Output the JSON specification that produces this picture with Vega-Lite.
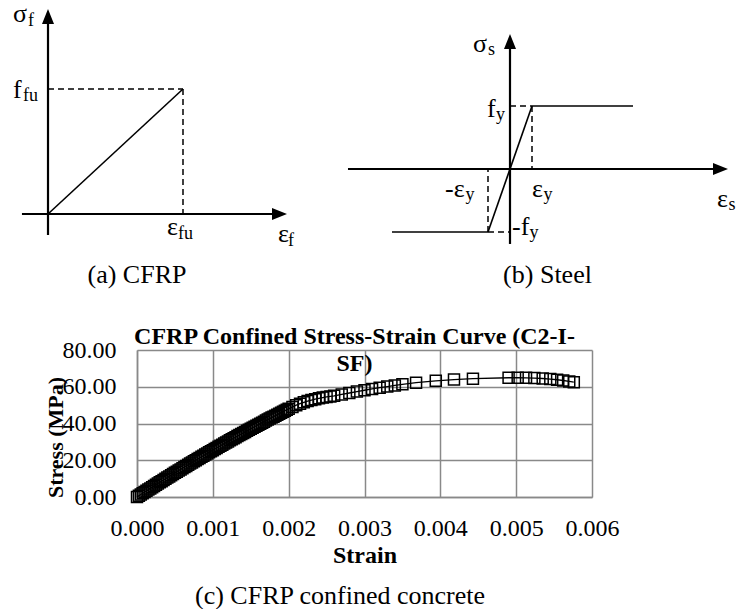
{
  "$schema": "https://vega.github.io/schema/vega-lite/v6.json",
  "padding": 0,
  "background": "white",
  "title": {"text": "(c) CFRP confined concrete", "orient": "bottom", "anchor": "middle", "font": "Times New Roman, Liberation Serif, DejaVu Serif, serif", "fontSize": 26, "fontWeight": "normal", "color": "black", "baseline": "top", "offset": 16, "dx": -32},
  "datasets": {
    "a_seg": [
      {"kind": "axis", "x": -0.193, "y": 0, "x2": 1.70, "y2": 0},
      {"kind": "axis", "x": 0, "y": -0.168, "x2": 0, "y2": 1.56},
      {"kind": "line", "x": 0, "y": 0, "x2": 1, "y2": 1},
      {"kind": "dash", "x": 0, "y": 1, "x2": 1, "y2": 1},
      {"kind": "dash", "x": 1, "y": 1, "x2": 1, "y2": 0}
    ],
    "a_arrow": [
      {"dir": "right", "x": 1.715, "y": 0},
      {"dir": "up", "x": 0, "y": 1.58}
    ],
    "a_lab": [
      {"role": "main", "t": "σ", "x": -0.259, "y": 1.536},
      {"role": "sub", "t": "f", "x": -0.148, "y": 1.504},
      {"role": "main", "t": "f", "x": -0.259, "y": 0.928},
      {"role": "sub", "t": "fu", "x": -0.185, "y": 0.904},
      {"role": "main", "t": "ε", "x": 0.881, "y": -0.168},
      {"role": "sub", "t": "fu", "x": 0.963, "y": -0.2},
      {"role": "main", "t": "ε", "x": 1.704, "y": -0.224},
      {"role": "sub", "t": "f", "x": 1.778, "y": -0.256},
      {"role": "cap", "t": "(a) CFRP", "x": 0.659, "y": -0.552}
    ],
    "b_seg": [
      {"kind": "axis", "x": -7.364, "y": 0, "x2": 9.5, "y2": 0},
      {"kind": "axis", "x": 0, "y": -1.19, "x2": 0, "y2": 1.98},
      {"kind": "line", "x": -5.364, "y": -1, "x2": -1, "y2": -1},
      {"kind": "line", "x": -1, "y": -1, "x2": 1, "y2": 1},
      {"kind": "line", "x": 1, "y": 1, "x2": 5.591, "y2": 1},
      {"kind": "dash", "x": 0, "y": 1, "x2": 1, "y2": 1},
      {"kind": "dash", "x": 1, "y": 1, "x2": 1, "y2": 0},
      {"kind": "dash", "x": -1, "y": -1, "x2": 0, "y2": -1},
      {"kind": "dash", "x": -1, "y": -1, "x2": -1, "y2": 0}
    ],
    "b_arrow": [
      {"dir": "right", "x": 9.568, "y": 0},
      {"dir": "up", "x": 0, "y": 2.024}
    ],
    "b_lab": [
      {"role": "main", "t": "σ", "x": -1.682, "y": 1.857},
      {"role": "sub", "t": "s", "x": -1.0, "y": 1.810},
      {"role": "main", "t": "f", "x": -1.045, "y": 0.825},
      {"role": "sub", "t": "y", "x": -0.636, "y": 0.778},
      {"role": "main", "t": "-ε", "x": -2.955, "y": -0.444},
      {"role": "sub", "t": "y", "x": -2.023, "y": -0.492},
      {"role": "main", "t": "ε", "x": 1.0, "y": -0.444},
      {"role": "sub", "t": "y", "x": 1.523, "y": -0.492},
      {"role": "main", "t": "-f", "x": 0.091, "y": -1.048},
      {"role": "sub", "t": "y", "x": 0.886, "y": -1.095},
      {"role": "main", "t": "ε", "x": 9.409, "y": -0.603},
      {"role": "sub", "t": "s", "x": 9.932, "y": -0.651},
      {"role": "cap", "t": "(b) Steel", "x": 1.705, "y": -1.81}
    ],
    "c_curve": [
      {"strain": 0, "stress": 0},
      {"strain": 0.000025, "stress": 0.67},
      {"strain": 0.00005, "stress": 1.35},
      {"strain": 0.000075, "stress": 2.02},
      {"strain": 0.0001, "stress": 2.69},
      {"strain": 0.000125, "stress": 3.35},
      {"strain": 0.00015, "stress": 4.02},
      {"strain": 0.000175, "stress": 4.68},
      {"strain": 0.0002, "stress": 5.34},
      {"strain": 0.000225, "stress": 6.00},
      {"strain": 0.00025, "stress": 6.66},
      {"strain": 0.000275, "stress": 7.31},
      {"strain": 0.0003, "stress": 7.97},
      {"strain": 0.000325, "stress": 8.62},
      {"strain": 0.00035, "stress": 9.27},
      {"strain": 0.000375, "stress": 9.91},
      {"strain": 0.0004, "stress": 10.56},
      {"strain": 0.000425, "stress": 11.20},
      {"strain": 0.00045, "stress": 11.85},
      {"strain": 0.000475, "stress": 12.49},
      {"strain": 0.0005, "stress": 13.13},
      {"strain": 0.000525, "stress": 13.76},
      {"strain": 0.00055, "stress": 14.40},
      {"strain": 0.000575, "stress": 15.03},
      {"strain": 0.0006, "stress": 15.66},
      {"strain": 0.000625, "stress": 16.29},
      {"strain": 0.00065, "stress": 16.92},
      {"strain": 0.000675, "stress": 17.54},
      {"strain": 0.0007, "stress": 18.17},
      {"strain": 0.000725, "stress": 18.79},
      {"strain": 0.00075, "stress": 19.41},
      {"strain": 0.000775, "stress": 20.02},
      {"strain": 0.0008, "stress": 20.64},
      {"strain": 0.000825, "stress": 21.25},
      {"strain": 0.00085, "stress": 21.87},
      {"strain": 0.000875, "stress": 22.48},
      {"strain": 0.0009, "stress": 23.09},
      {"strain": 0.000925, "stress": 23.69},
      {"strain": 0.00095, "stress": 24.30},
      {"strain": 0.000975, "stress": 24.90},
      {"strain": 0.001, "stress": 25.50},
      {"strain": 0.001025, "stress": 26.10},
      {"strain": 0.00105, "stress": 26.70},
      {"strain": 0.001075, "stress": 27.29},
      {"strain": 0.0011, "stress": 27.89},
      {"strain": 0.001125, "stress": 28.48},
      {"strain": 0.00115, "stress": 29.07},
      {"strain": 0.001175, "stress": 29.65},
      {"strain": 0.0012, "stress": 30.24},
      {"strain": 0.001225, "stress": 30.82},
      {"strain": 0.00125, "stress": 31.41},
      {"strain": 0.001275, "stress": 31.99},
      {"strain": 0.0013, "stress": 32.57},
      {"strain": 0.001325, "stress": 33.14},
      {"strain": 0.00135, "stress": 33.72},
      {"strain": 0.001375, "stress": 34.29},
      {"strain": 0.0014, "stress": 34.86},
      {"strain": 0.001425, "stress": 35.43},
      {"strain": 0.00145, "stress": 36.00},
      {"strain": 0.001475, "stress": 36.56},
      {"strain": 0.0015, "stress": 37.13},
      {"strain": 0.001525, "stress": 37.69},
      {"strain": 0.00155, "stress": 38.25},
      {"strain": 0.001575, "stress": 38.80},
      {"strain": 0.0016, "stress": 39.36},
      {"strain": 0.001625, "stress": 39.91},
      {"strain": 0.00165, "stress": 40.47},
      {"strain": 0.001675, "stress": 41.02},
      {"strain": 0.0017, "stress": 41.57},
      {"strain": 0.001725, "stress": 42.11},
      {"strain": 0.00175, "stress": 42.66},
      {"strain": 0.001775, "stress": 43.20},
      {"strain": 0.0018, "stress": 43.74},
      {"strain": 0.001825, "stress": 44.28},
      {"strain": 0.00185, "stress": 44.82},
      {"strain": 0.001875, "stress": 45.35},
      {"strain": 0.0019, "stress": 45.89},
      {"strain": 0.001925, "stress": 46.42},
      {"strain": 0.00195, "stress": 46.95},
      {"strain": 0.001975, "stress": 47.47},
      {"strain": 0.002, "stress": 48.00},
      {"strain": 0.00205, "stress": 49.00},
      {"strain": 0.0021, "stress": 49.95},
      {"strain": 0.00215, "stress": 50.80},
      {"strain": 0.0022, "stress": 51.55},
      {"strain": 0.00225, "stress": 52.20},
      {"strain": 0.0023, "stress": 52.75},
      {"strain": 0.00235, "stress": 53.25},
      {"strain": 0.0024, "stress": 53.70},
      {"strain": 0.00245, "stress": 54.10},
      {"strain": 0.0025, "stress": 54.45},
      {"strain": 0.00255, "stress": 54.75},
      {"strain": 0.0026, "stress": 55.05},
      {"strain": 0.0027, "stress": 55.80},
      {"strain": 0.0028, "stress": 56.60},
      {"strain": 0.0029, "stress": 57.40},
      {"strain": 0.003, "stress": 58.10},
      {"strain": 0.0031, "stress": 58.80},
      {"strain": 0.0032, "stress": 59.50},
      {"strain": 0.0033, "stress": 60.10},
      {"strain": 0.0034, "stress": 60.70},
      {"strain": 0.0035, "stress": 61.30},
      {"strain": 0.00368, "stress": 62.20},
      {"strain": 0.00394, "stress": 63.20},
      {"strain": 0.00418, "stress": 63.90},
      {"strain": 0.00443, "stress": 64.40},
      {"strain": 0.0049, "stress": 64.90},
      {"strain": 0.00502, "stress": 64.95},
      {"strain": 0.00513, "stress": 64.85},
      {"strain": 0.00524, "stress": 64.70},
      {"strain": 0.00535, "stress": 64.50},
      {"strain": 0.00545, "stress": 64.20},
      {"strain": 0.00554, "stress": 63.80},
      {"strain": 0.00562, "stress": 63.40},
      {"strain": 0.0057, "stress": 62.90},
      {"strain": 0.00576, "stress": 62.50}
    ]
  },
  "spacing": 28,
  "vconcat": [
    {
      "spacing": 40,
      "hconcat": [
        {
          "width": 300,
          "height": 295,
          "encoding": {
            "x": {"field": "x", "type": "quantitative", "scale": {"domain": [-0.3556, 1.8667], "nice": false, "zero": false}, "axis": null},
            "y": {"field": "y", "type": "quantitative", "scale": {"domain": [-0.664, 1.696], "nice": false, "zero": false}, "axis": null}
          },
          "layer": [
            {"data": {"name": "a_seg"}, "transform": [{"filter": "datum.kind == 'axis'"}], "mark": {"type": "rule", "color": "black", "strokeWidth": 2.2}, "encoding": {"x2": {"field": "x2"}, "y2": {"field": "y2"}}},
            {"data": {"name": "a_seg"}, "transform": [{"filter": "datum.kind == 'line'"}], "mark": {"type": "rule", "color": "black", "strokeWidth": 1.6}, "encoding": {"x2": {"field": "x2"}, "y2": {"field": "y2"}}},
            {"data": {"name": "a_seg"}, "transform": [{"filter": "datum.kind == 'dash'"}], "mark": {"type": "rule", "color": "black", "strokeWidth": 1.5, "strokeDash": [6, 4]}, "encoding": {"x2": {"field": "x2"}, "y2": {"field": "y2"}}},
            {"data": {"name": "a_arrow"}, "mark": {"type": "point", "filled": true, "color": "black", "opacity": 1, "size": 225, "strokeWidth": 0}, "encoding": {"shape": {"field": "dir", "type": "nominal", "scale": {"domain": ["up", "right"], "range": ["M0,-1L0.8,1L-0.8,1Z", "M1,0L-1,0.8L-1,-0.8Z"]}, "legend": null}}},
            {"data": {"name": "a_lab"}, "transform": [{"filter": "datum.role == 'main'"}], "mark": {"type": "text", "font": "Times New Roman, Liberation Serif, DejaVu Serif, serif", "fontSize": 26, "align": "left", "baseline": "alphabetic", "color": "black"}, "encoding": {"text": {"field": "t"}}},
            {"data": {"name": "a_lab"}, "transform": [{"filter": "datum.role == 'sub'"}], "mark": {"type": "text", "font": "Times New Roman, Liberation Serif, DejaVu Serif, serif", "fontSize": 18, "align": "left", "baseline": "alphabetic", "color": "black"}, "encoding": {"text": {"field": "t"}}},
            {"data": {"name": "a_lab"}, "transform": [{"filter": "datum.role == 'cap'"}], "mark": {"type": "text", "font": "Times New Roman, Liberation Serif, DejaVu Serif, serif", "fontSize": 26, "align": "center", "baseline": "alphabetic", "color": "black"}, "encoding": {"text": {"field": "t"}}}
          ]
        },
        {
          "width": 404,
          "height": 295,
          "encoding": {
            "x": {"field": "x", "type": "quantitative", "scale": {"domain": [-7.727, 10.636], "nice": false, "zero": false}, "axis": null},
            "y": {"field": "y", "type": "quantitative", "scale": {"domain": [-2.0317, 2.6508], "nice": false, "zero": false}, "axis": null}
          },
          "layer": [
            {"data": {"name": "b_seg"}, "transform": [{"filter": "datum.kind == 'axis'"}], "mark": {"type": "rule", "color": "black", "strokeWidth": 2.2}, "encoding": {"x2": {"field": "x2"}, "y2": {"field": "y2"}}},
            {"data": {"name": "b_seg"}, "transform": [{"filter": "datum.kind == 'line'"}], "mark": {"type": "rule", "color": "black", "strokeWidth": 1.6}, "encoding": {"x2": {"field": "x2"}, "y2": {"field": "y2"}}},
            {"data": {"name": "b_seg"}, "transform": [{"filter": "datum.kind == 'dash'"}], "mark": {"type": "rule", "color": "black", "strokeWidth": 1.5, "strokeDash": [6, 4]}, "encoding": {"x2": {"field": "x2"}, "y2": {"field": "y2"}}},
            {"data": {"name": "b_arrow"}, "mark": {"type": "point", "filled": true, "color": "black", "opacity": 1, "size": 225, "strokeWidth": 0}, "encoding": {"shape": {"field": "dir", "type": "nominal", "scale": {"domain": ["up", "right"], "range": ["M0,-1L0.8,1L-0.8,1Z", "M1,0L-1,0.8L-1,-0.8Z"]}, "legend": null}}},
            {"data": {"name": "b_lab"}, "transform": [{"filter": "datum.role == 'main'"}], "mark": {"type": "text", "font": "Times New Roman, Liberation Serif, DejaVu Serif, serif", "fontSize": 26, "align": "left", "baseline": "alphabetic", "color": "black", "clip": true}, "encoding": {"text": {"field": "t"}}},
            {"data": {"name": "b_lab"}, "transform": [{"filter": "datum.role == 'sub'"}], "mark": {"type": "text", "font": "Times New Roman, Liberation Serif, DejaVu Serif, serif", "fontSize": 18, "align": "left", "baseline": "alphabetic", "color": "black", "clip": true}, "encoding": {"text": {"field": "t"}}},
            {"data": {"name": "b_lab"}, "transform": [{"filter": "datum.role == 'cap'"}], "mark": {"type": "text", "font": "Times New Roman, Liberation Serif, DejaVu Serif, serif", "fontSize": 26, "align": "center", "baseline": "alphabetic", "color": "black"}, "encoding": {"text": {"field": "t"}}}
          ]
        }
      ]
    },
    {
      "spacing": 0,
      "hconcat": [
        {"width": 43, "height": 10, "data": {"values": []}, "mark": {"type": "point"}, "encoding": {}},
        {
          "width": 455,
          "height": 147,
          "title": {"text": ["CFRP Confined Stress-Strain Curve (C2-I-", "SF)"], "font": "Times New Roman, Liberation Serif, DejaVu Serif, serif", "fontSize": 24, "fontWeight": "bold", "color": "black", "lineHeight": 27, "baseline": "alphabetic", "offset": -57, "anchor": "middle", "dx": -10},
          "data": {"name": "c_curve"},
          "encoding": {
            "x": {"field": "strain", "type": "quantitative", "scale": {"domain": [0, 0.006], "nice": false, "zero": false},
              "axis": {"values": [0, 0.001, 0.002, 0.003, 0.004, 0.005, 0.006], "format": ".3f", "title": "Strain", "labelFont": "Times New Roman, Liberation Serif, DejaVu Serif, serif", "labelFontSize": 24, "labelColor": "black", "labelPadding": 19, "labelFlush": false, "ticks": false, "domainColor": "#898989", "domainWidth": 1.5, "grid": true, "gridColor": "#898989", "gridWidth": 1.5, "titleFont": "Times New Roman, Liberation Serif, DejaVu Serif, serif", "titleFontSize": 24, "titleFontWeight": "bold", "titleColor": "black", "titlePadding": 3}},
            "y": {"field": "stress", "type": "quantitative", "scale": {"domain": [0, 80], "nice": false, "zero": false},
              "axis": {"values": [0, 20, 40, 60, 80], "format": ".2f", "title": "Stress (MPa)", "labelFont": "Times New Roman, Liberation Serif, DejaVu Serif, serif", "labelFontSize": 24, "labelColor": "black", "labelPadding": 21, "labelFlush": false, "ticks": false, "domainColor": "#898989", "domainWidth": 1.5, "grid": true, "gridColor": "#898989", "gridWidth": 1.5, "titleFont": "Times New Roman, Liberation Serif, DejaVu Serif, serif", "titleFontSize": 22, "titleFontWeight": "bold", "titleColor": "black", "titleX": -75, "titleY": 87, "titleBaseline": "alphabetic", "titleAlign": "center"}}
          },
          "layer": [
            {"mark": {"type": "line", "color": "black", "strokeWidth": 1.3}},
            {"mark": {"type": "point", "shape": "square", "filled": false, "color": "black", "opacity": 1, "size": 121, "strokeWidth": 1.5}}
          ]
        }
      ]
    }
  ],
  "config": {"view": {"stroke": null}, "font": "Times New Roman, Liberation Serif, DejaVu Serif, serif"}
}
